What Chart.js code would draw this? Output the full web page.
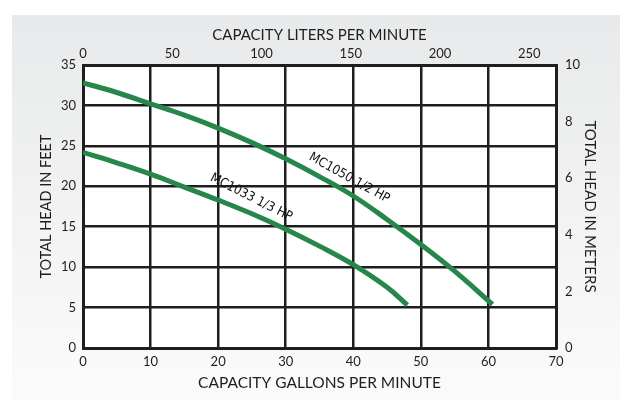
<!DOCTYPE html>
<html>
<head>
<meta charset="utf-8">
<script src="https://cdn.jsdelivr.net/npm/chart.js@4"></script>
<style>
  html, body { margin: 0; padding: 0; background: #fff; }
  #wrap { width: 631px; height: 400px; }
</style>
</head>
<body>
<div id="wrap"><canvas id="chart" width="631" height="400"></canvas></div>
<script>
/* pump curves: total head (feet) vs capacity (gallons per minute) */
const GPM_MC1050 = [0, 5, 10, 15, 20, 25, 30, 35, 40, 45, 50, 55, 60.6];
const FEET_MC1050 = [32.8, 31.6, 30.2, 28.8, 27.2, 25.4, 23.4, 21.2, 18.8, 15.9, 12.8, 9.5, 5.4];

const GPM_MC1033 = [0, 5, 10, 15, 20, 25, 30, 35, 40, 45, 48];
const FEET_MC1033 = [24.2, 22.9, 21.5, 19.9, 18.3, 16.6, 14.7, 12.6, 10.3, 7.5, 5.3];

const LITER_TICKS = [0, 50, 100, 150, 200, 250];
const METER_TICKS = [0, 2, 4, 6, 8, 10];
const LITERS_PER_GALLON = 3.785;

const CURVE_LABELS = ["MC1050 1/2 HP", "MC1033 1/3 HP"];
const LABEL_GPM = [39.4, 24.9];
const LABEL_FEET = [21.0, 18.6];
const LABEL_ANGLE = [29, 27];

const GREEN = "#27864a";
const INK = "#1e1e1e";
const TITLE_FONT = { family: "Lato", size: 15 };
const TICK_FONT = { family: "Lato", size: 13 };

const toPoints = (xs, ys) => xs.map((x, i) => ({ x, y: ys[i] }));

// grey panel behind the chart + white plot area
const panelPlugin = {
  id: "panel",
  beforeDraw(chart) {
    const { ctx, chartArea: a } = chart;
    ctx.save();
    ctx.fillStyle = "#fff";
    ctx.fillRect(0, 0, chart.width, chart.height);
    const g = ctx.createLinearGradient(0, 15, 0, chart.height);
    g.addColorStop(0, "#e8e9ea");
    g.addColorStop(1, "#fbfbfb");
    ctx.fillStyle = g;
    ctx.fillRect(12, 15, 608, chart.height - 15);
    ctx.fillStyle = "#fff";
    ctx.fillRect(a.left, a.top, a.right - a.left, a.bottom - a.top);
    ctx.restore();
  }
};

// rotated model names along the curves
const curveLabelPlugin = {
  id: "curveLabels",
  afterDatasetsDraw(chart) {
    const { ctx, scales: { x, y } } = chart;
    ctx.save();
    ctx.fillStyle = "#111";
    ctx.font = "13px 'DejaVu Sans Condensed'";
    ctx.textAlign = "center";
    ctx.textBaseline = "middle";
    CURVE_LABELS.forEach((txt, i) => {
      ctx.save();
      ctx.translate(x.getPixelForValue(LABEL_GPM[i]), y.getPixelForValue(LABEL_FEET[i]));
      ctx.rotate(LABEL_ANGLE[i] * Math.PI / 180);
      ctx.fillText(txt, 0, 0);
      ctx.restore();
    });
    ctx.restore();
  }
};

const fixSize = (w, h) => scale => {
  if (w != null) scale.width = w;
  if (h != null) scale.height = h;
};

const curve = (label, xs, ys) => ({
  label,
  data: toPoints(xs, ys),
  borderColor: GREEN,
  borderWidth: 5,
  pointRadius: 0,
  tension: 0.4,
  borderCapStyle: "butt",
  xAxisID: "x",
  yAxisID: "y"
});

new Chart(document.getElementById("chart"), {
  type: "line",
  data: {
    datasets: [
      curve("MC1050 1/2 HP", GPM_MC1050, FEET_MC1050),
      curve("MC1033 1/3 HP", GPM_MC1033, FEET_MC1033)
    ]
  },
  options: {
    responsive: false,
    animation: false,
    layout: { padding: 0 },
    plugins: {
      legend: { display: false },
      tooltip: { enabled: false }
    },
    scales: {
      x: {
        type: "linear",
        position: "bottom",
        min: 0, max: 70,
        afterFit: fixSize(null, 52),
        ticks: { stepSize: 10, color: INK, font: TICK_FONT, padding: 6, maxRotation: 0 },
        grid: { color: INK, lineWidth: 2.5, drawTicks: false },
        border: { color: INK, width: 3 },
        title: { display: true, text: "CAPACITY GALLONS PER MINUTE", color: INK, font: { family: "Lato", size: 15.5 }, padding: { top: 0, bottom: 8 } }
      },
      xLiters: {
        type: "linear",
        position: "top",
        min: 0, max: 70 * LITERS_PER_GALLON,
        afterFit: fixSize(null, 65),
        afterBuildTicks: s => { s.ticks = LITER_TICKS.map(v => ({ value: v })); },
        ticks: { color: INK, font: TICK_FONT, padding: 3, maxRotation: 0 },
        grid: { display: false, drawTicks: false },
        border: { color: INK, width: 3 },
        title: { display: true, text: "CAPACITY LITERS PER MINUTE", color: INK, font: TITLE_FONT, padding: { top: 26, bottom: 0 } }
      },
      y: {
        type: "linear",
        position: "left",
        min: 0, max: 35,
        afterFit: fixSize(83, null),
        ticks: { stepSize: 5, color: INK, font: TICK_FONT, padding: 7 },
        grid: { color: INK, lineWidth: 2.5, drawTicks: false },
        border: { color: INK, width: 3 },
        title: { display: true, text: "TOTAL HEAD IN FEET", color: INK, font: { family: "Lato", size: 14.5 }, padding: { top: 38, bottom: 0 } }
      },
      yMeters: {
        type: "linear",
        position: "right",
        min: 0, max: 10,
        afterFit: fixSize(75, null),
        afterBuildTicks: s => { s.ticks = METER_TICKS.map(v => ({ value: v })); },
        ticks: { color: INK, font: TICK_FONT, padding: 9 },
        grid: { display: false, drawTicks: false },
        border: { color: INK, width: 3 },
        title: { display: true, text: "TOTAL HEAD IN METERS", color: INK, font: TITLE_FONT, padding: { top: 32, bottom: 0 } }
      }
    }
  },
  plugins: [panelPlugin, curveLabelPlugin]
});
</script>
</body>
</html>
